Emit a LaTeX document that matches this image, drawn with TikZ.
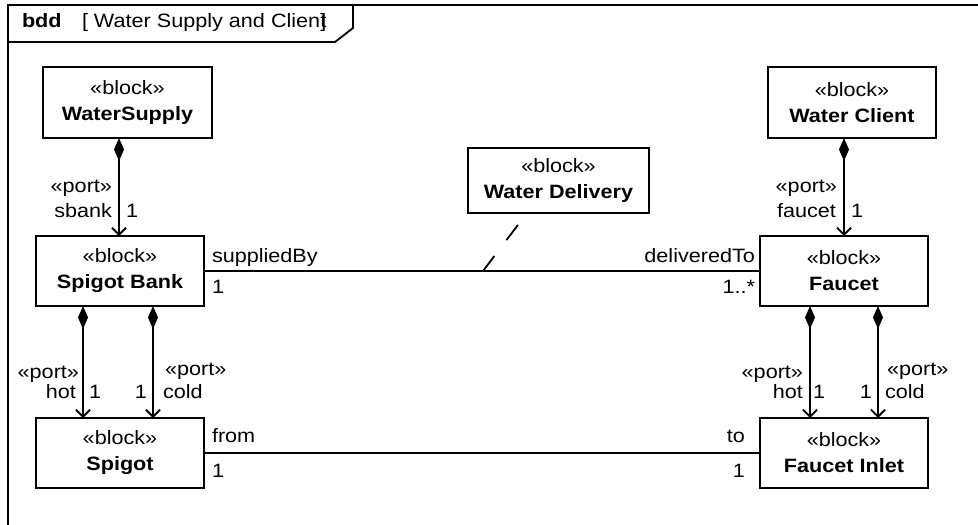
\documentclass[tikz,border=0pt]{standalone}
\usepackage{fontspec}
\setmainfont{Liberation Sans}[FakeStretch=1.12]
\usetikzlibrary{arrows.meta}
\begin{document}
\begin{tikzpicture}[x=1pt,y=-1pt,
  every node/.style={font=\fontsize{19.3}{26}\selectfont, inner sep=0pt, outer sep=0pt},
  blk/.style={draw, line width=1.8pt, minimum width=168pt, minimum height=70pt, align=center},
  ln/.style={line width=1.8pt},
  comp/.style={ln, {Diamond[length=23pt,width=10pt]}-{Straight Barb[length=7pt,width=14pt,line width=1.8pt]}},
  dline/.style={line width=1.8pt, dash pattern=on 19pt off 20pt, dash phase=24pt}]
\useasboundingbox (0,0) rectangle (978,525);
\clip (0,0) rectangle (978,525);
% frame
\draw[ln] (8,530) -- (8,5) -- (990,5);
\draw[ln] (8,42) -- (335,42) -- (353,28) -- (353,5);
\node[anchor=base west] (hdrk) at (22,27) {\textbf{bdd}};
\node[anchor=base west] (hdrt) at (82,27) {[ Water Supply and Clien\makebox[0pt][l]{t}]};
% blocks
\node[blk, minimum width=169pt, minimum height=71pt] (ws) at (127.5,102.5) {«block»\\\textbf{WaterSupply}};
\node[blk] (sb) at (120,271) {«block»\\\textbf{Spigot Bank}};
\node[blk] (sp) at (120,453) {«block»\\\textbf{Spigot}};
\node[blk, minimum height=71pt] (wc) at (852,102.5) {«block»\\\textbf{Water Client}};
\node[blk] (fc) at (844,271) {«block»\\\textbf{Faucet}};
\node[blk] (fi) at (844,453) {«block»\\\textbf{Faucet Inlet}};
\node[blk, minimum width=181pt, minimum height=65pt] (wd) at (558.5,180.5) {«block»\\\textbf{Water Delivery}};
% compositions
\draw[comp] ([xshift=-8.5pt]ws.south) -- ([xshift=-1pt]sb.north);
\draw[comp] (fc.north |- wc.south) -- (fc.north);
\draw[comp] ([xshift=-37pt]sb.south) -- ([xshift=-37pt]sp.north);
\draw[comp] ([xshift=33pt]sb.south) -- ([xshift=33pt]sp.north);
\draw[comp] ([xshift=-34pt]fc.south) -- ([xshift=-34pt]fi.north);
\draw[comp] ([xshift=34pt]fc.south) -- ([xshift=34pt]fi.north);
% composition labels
\node[anchor=base east] (p1) at (112,192) {«port»};
\node[anchor=base east] (r1) at (112,217) {sbank};
\node[anchor=base west] (m1) at (126,217) {1};
\node[anchor=base east] (p2) at (837,192) {«port»};
\node[anchor=base east] (r2) at (836,217) {faucet};
\node[anchor=base west] (m2) at (851,217) {1};
\node[anchor=base east] (p3) at (79,378) {«port»};
\node[anchor=base east] (r3) at (76,398) {hot};
\node[anchor=base west] (m3) at (89,398) {1};
\node[anchor=base west] (p4) at (165,375) {«port»};
\node[anchor=base west] (r4) at (163,398) {cold};
\node[anchor=base east] (m4) at (147,398) {1};
\node[anchor=base east] (p5) at (803,378) {«port»};
\node[anchor=base east] (r5) at (803,398) {hot};
\node[anchor=base west] (m5) at (813,398) {1};
\node[anchor=base west] (p6) at (887,375) {«port»};
\node[anchor=base west] (r6) at (885,398) {cold};
\node[anchor=base east] (m6) at (872,398) {1};
% associations
\draw[ln] (sb.east) -- (fc.west);
\draw[ln] (sp.east) -- (fi.west);
\coordinate (dl) at (483,271);
\draw[dline] ([xshift=-31.5pt]wd.south) -- (dl);
\node[anchor=base west] (a1) at (212,262) {suppliedBy};
\node[anchor=base west] (a2) at (212,293) {1};
\node[anchor=base east] (a3) at (755,262) {deliveredTo};
\node[anchor=base east] (a4) at (755,293) {1..*};
\node[anchor=base west] (a5) at (212,442) {from};
\node[anchor=base west] (a6) at (212,477) {1};
\node[anchor=base east] (a7) at (745,442) {to};
\node[anchor=base east] (a8) at (745,477) {1};
\end{tikzpicture}
\end{document}
